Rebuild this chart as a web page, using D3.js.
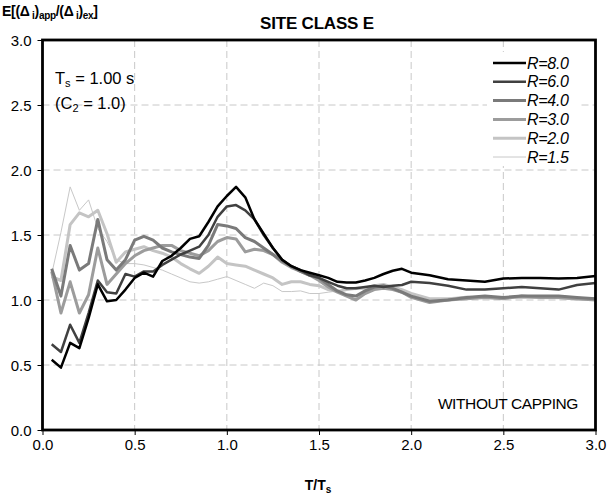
<!DOCTYPE html>
<html><head><meta charset="utf-8">
<script src="https://cdn.jsdelivr.net/npm/d3@7"></script>
<style>
body{margin:0;background:#fff}
svg{display:block}
text{font-family:"Liberation Sans",Arial,sans-serif;fill:#000}
</style>
</head><body><svg id="c" width="608" height="500"></svg>
<script>
// ---- data ----
const periods = [0.05,0.10,0.15,0.20,0.25,0.30,0.35,0.40,0.45,0.50,
  0.55,0.60,0.65,0.70,0.75,0.80,0.85,0.90,0.95,1.00,
  1.05,1.10,1.15,1.20,1.25,1.30,1.35,1.40,1.45,1.50,
  1.55,1.60,1.65,1.70,1.75,1.80,1.85,1.90,1.95,2.00,
  2.1,2.2,2.3,2.4,2.5,2.6,2.7,2.8,2.9,3.0];
const r80 = [0.54,0.48,0.67,0.63,0.86,1.12,0.99,1.00,1.08,1.17,1.21,1.18,1.30,1.34,1.40,1.47,1.49,1.60,1.72,1.80,1.87,1.79,1.62,1.51,1.40,1.31,1.26,1.23,1.21,1.19,1.17,1.14,1.135,1.135,1.15,1.17,1.20,1.225,1.24,1.21,1.19,1.16,1.15,1.14,1.165,1.17,1.17,1.165,1.17,1.185];
const r60 = [0.66,0.60,0.81,0.67,0.90,1.15,1.06,1.05,1.20,1.18,1.22,1.22,1.27,1.31,1.35,1.38,1.41,1.50,1.64,1.72,1.73,1.69,1.62,1.50,1.40,1.31,1.26,1.23,1.19,1.17,1.14,1.11,1.09,1.09,1.10,1.11,1.10,1.11,1.115,1.14,1.13,1.11,1.08,1.08,1.09,1.10,1.09,1.08,1.115,1.13];
const r40 = [1.24,1.03,1.42,1.23,1.28,1.62,1.31,1.23,1.31,1.46,1.49,1.46,1.40,1.37,1.35,1.33,1.32,1.42,1.58,1.57,1.55,1.48,1.45,1.40,1.35,1.30,1.26,1.22,1.19,1.17,1.12,1.07,1.04,1.03,1.07,1.10,1.11,1.09,1.06,1.03,0.99,1.00,1.02,1.03,1.02,1.03,1.03,1.03,1.02,1.01];
const r30 = [1.22,0.90,1.14,0.90,1.04,1.40,1.12,1.20,1.28,1.34,1.38,1.40,1.42,1.42,1.38,1.36,1.34,1.38,1.45,1.48,1.47,1.37,1.39,1.38,1.35,1.29,1.25,1.22,1.19,1.15,1.10,1.06,1.03,1.00,1.05,1.08,1.09,1.08,1.06,1.02,0.98,1.00,1.01,1.02,1.01,1.03,1.02,1.02,1.01,1.00];
const r20 = [1.18,1.15,1.58,1.67,1.64,1.69,1.51,1.29,1.37,1.39,1.41,1.38,1.36,1.33,1.28,1.24,1.205,1.26,1.33,1.28,1.27,1.26,1.23,1.20,1.17,1.12,1.14,1.14,1.12,1.11,1.08,1.065,1.08,1.09,1.09,1.11,1.12,1.10,1.08,1.05,1.01,1.01,1.02,1.02,1.02,1.02,1.02,1.02,1.01,1.01];
const r15 = [1.20,1.52,1.87,1.69,1.77,1.55,1.45,1.31,1.28,1.28,1.27,1.25,1.23,1.20,1.17,1.14,1.13,1.14,1.16,1.18,1.15,1.12,1.09,1.13,1.11,1.065,1.065,1.07,1.05,1.05,1.06,1.07,1.08,1.08,1.09,1.10,1.11,1.08,1.05,1.03,1.00,1.01,1.03,1.02,1.02,1.02,1.01,1.01,1.00,1.00];
const seriesNames = ["R=8.0","R=6.0","R=4.0","R=3.0","R=2.0","R=1.5"];
const xTicks = [0,0.5,1.0,1.5,2.0,2.5,3.0];
const yTicks = [0,0.5,1.0,1.5,2.0,2.5,3.0];

// ---- styling ----
const seriesValues = [r80,r60,r40,r30,r20,r15];
const colors = ["#000000","#404040","#7a7a7a","#9c9c9c","#c4c4c4","#c8c8c8"];
const widths = [2.5,2.5,3,3,3,1];

const svg = d3.select("#c");
const L = 42.5, R = 595.5, T = 40, B = 430;
const x = d3.scaleLinear().domain([0,3]).range([L,R]);
const y = d3.scaleLinear().domain([0,3]).range([B,T]);

// grid
const g = svg.append("g");
g.selectAll(".hg").data(yTicks.filter(v=>v>0&&v<3)).join("line")
  .attr("x1",L).attr("x2",R).attr("y1",d=>y(d)).attr("y2",d=>y(d))
  .attr("stroke","#c8c8c8").attr("stroke-width",1).attr("stroke-dasharray","7,4");
g.selectAll(".vg").data(xTicks.filter(v=>v>0&&v<3)).join("line")
  .attr("y1",T).attr("y2",B).attr("x1",d=>x(d)).attr("x2",d=>x(d))
  .attr("stroke","#c8c8c8").attr("stroke-width",1).attr("stroke-dasharray","7,4");

// lines
const line = d3.line().x((d,i)=>x(periods[i])).y(d=>y(d));
for (let k = seriesValues.length-1; k>=0; k--) {
  svg.append("path").datum(seriesValues[k]).attr("d",line)
    .attr("fill","none").attr("stroke",colors[k]).attr("stroke-width",widths[k])
    .attr("stroke-linejoin","round");
}

// axes
const xa = svg.append("g").attr("transform",`translate(0,${B})`)
  .call(d3.axisBottom(x).tickValues(xTicks).tickFormat(d3.format(".1f")).tickSize(5).tickPadding(3));
const ya = svg.append("g").attr("transform",`translate(${L},0)`)
  .call(d3.axisLeft(y).tickValues(yTicks).tickFormat(d3.format(".1f")).tickSize(5).tickPadding(6));
[xa,ya].forEach(a=>{
  a.select(".domain").remove();
  a.selectAll("text").attr("font-size",15).style("font-family",'"Liberation Sans",Arial,sans-serif');
  a.selectAll("line").attr("stroke","#000");
});
xa.selectAll("text").attr("dy","0.8em");
ya.selectAll("text").attr("dy","0.35em");

// frame
svg.append("rect").attr("x",L).attr("y",T).attr("width",R-L).attr("height",B-T)
  .attr("fill","none").attr("stroke","#000").attr("stroke-width",2.8);

// legend
const lg = svg.append("g");
lg.append("rect").attr("x",487).attr("y",52).attr("width",93).attr("height",114).attr("fill","#fff");
seriesNames.forEach((n,i)=>{
  const yy = 63 + i*18.8;
  lg.append("line").attr("x1",493).attr("x2",526).attr("y1",yy).attr("y2",yy)
    .attr("stroke",colors[i]).attr("stroke-width",widths[i]);
  lg.append("text").attr("x",527).attr("y",yy).attr("dy","0.35em")
    .attr("font-size",16).attr("font-style","italic").attr("letter-spacing","-0.3").text(n);
});

// title
svg.append("text").attr("x",317).attr("y",29).attr("text-anchor","middle")
  .attr("font-size",17).attr("font-weight","bold").attr("letter-spacing","-0.2").text("SITE CLASS E");

// y title
const yt = svg.append("text").attr("x",2).attr("y",16).attr("font-size",14).attr("font-weight","bold").attr("letter-spacing","-0.3");
yt.append("tspan").text("E[(Δ");
yt.append("tspan").attr("font-size",10).attr("dy",3).text(" i");
yt.append("tspan").attr("dy",-3).text(")");
yt.append("tspan").attr("font-size",10).attr("dy",3).text("app");
yt.append("tspan").attr("dy",-3).text("/(Δ");
yt.append("tspan").attr("font-size",10).attr("dy",3).text(" i");
yt.append("tspan").attr("dy",-3).text(")");
yt.append("tspan").attr("font-size",10).attr("dy",3).text("ex");
yt.append("tspan").attr("dy",-3).text("]");

// x title
const xt = svg.append("text").attr("x",318).attr("y",490).attr("text-anchor","middle")
  .attr("font-size",14).attr("font-weight","bold");
xt.append("tspan").text("T/T");
xt.append("tspan").attr("font-size",10).attr("dy",3).text("s");

// annotations
const a1 = svg.append("text").attr("x",55).attr("y",84).attr("font-size",16.5);
a1.append("tspan").text("T");
a1.append("tspan").attr("font-size",11).attr("dy",3).text("s");
a1.append("tspan").attr("dy",-3).text(" = 1.00 s");
const a2 = svg.append("text").attr("x",55).attr("y",109).attr("font-size",16.5);
a2.append("tspan").text("(C");
a2.append("tspan").attr("font-size",11).attr("dy",3).text("2");
a2.append("tspan").attr("dy",-3).text(" = 1.0)");

svg.append("text").attr("x",578).attr("y",409).attr("text-anchor","end")
  .attr("font-size",15.5).attr("letter-spacing","-0.4").text("WITHOUT CAPPING");
</script></body></html>
